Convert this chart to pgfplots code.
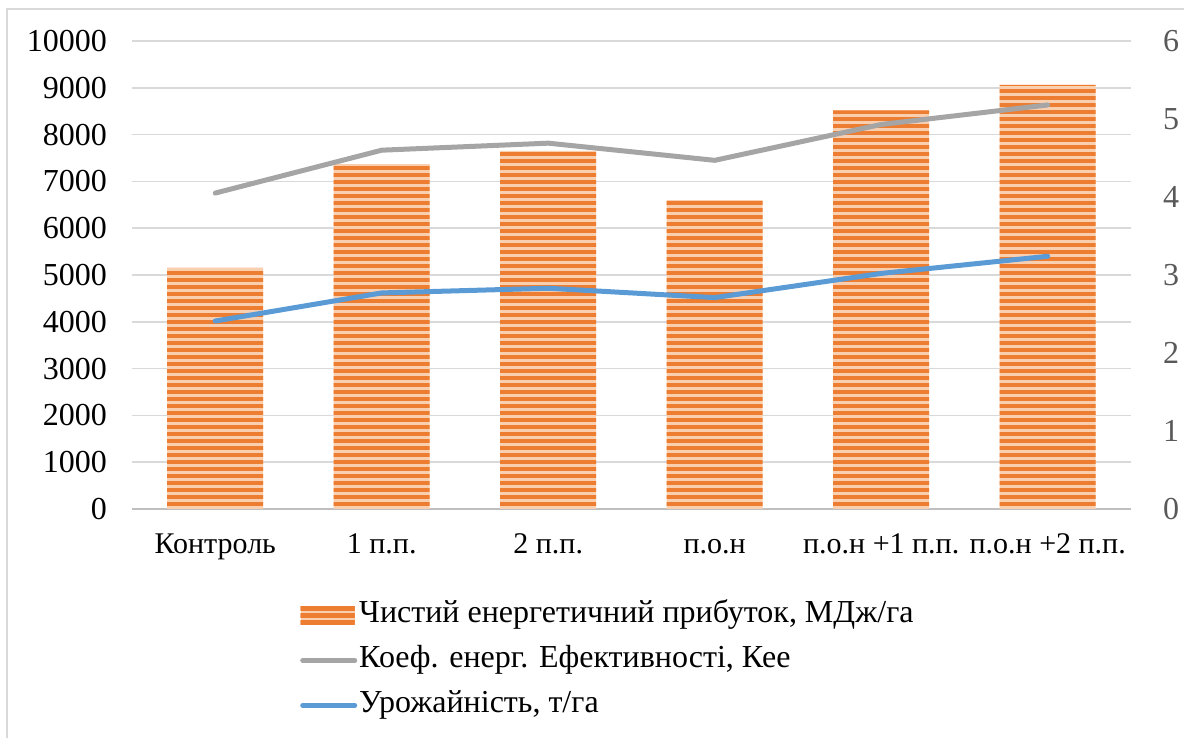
\documentclass[border=0pt]{standalone}
\usepackage{fontspec}
\setmainfont{Liberation Serif}
\usepackage{pgfplots}
\pgfplotsset{compat=1.18}
\usetikzlibrary{patterns}

\definecolor{barorange}{HTML}{ED7D31}
\definecolor{barlight}{HTML}{F9CFB0}
\definecolor{linegray}{HTML}{A5A5A5}
\definecolor{lineblue}{HTML}{5B9BD5}
\definecolor{gridgray}{HTML}{D9D9D9}
\definecolor{axisgray}{HTML}{BFBFBF}
\definecolor{labelgray}{HTML}{595959}

% wide tiles so that no seams show inside a bar
\pgfdeclarepatternformonly{hstripes}{\pgfpoint{0pt}{0pt}}{\pgfpoint{120pt}{3.5pt}}%
  {\pgfpoint{120pt}{3.5pt}}{%
  \pgfpathrectangle{\pgfpoint{-1pt}{0.7pt}}{\pgfpoint{122pt}{2.1pt}}%
  \pgfusepath{fill}}

% 1 px of the reference = 0.5pt
\pgfplotsset{
  base/.style={
    at={(66pt,114.5pt)}, anchor=south west,
    scale only axis, width=499.5pt, height=234pt,
    xmin=-0.5, xmax=5.5,
    tick style={draw=none}, major tick length=0pt,
    scaled y ticks=false,
    /pgf/number format/assume math mode=true,
    /pgf/number format/1000 sep={},
    every tick label/.append style={font=\fontsize{16}{19}\selectfont},
  },
  linelegend/.style={legend image code/.code={\draw[##1] (1pt,0pt) -- (27pt,0pt);}},
  barlegend/.style={legend image code/.code={\path[fill=barlight,
      postaction={pattern=hstripes, pattern color=barorange}]
      (0pt,-4.5pt) rectangle (27pt,4.5pt);}},
}

\begin{document}
\begin{tikzpicture}
\path[use as bounding box] (0pt,0pt) rectangle (592pt,369pt);
\draw[gridgray, line width=1pt] (3.5pt,0pt) -- (3.5pt,364.7pt) -- (592pt,364.7pt);

\begin{axis}[base,
  ymin=0, ymax=10000, ytick={0,1000,...,10000},
  axis x line*=bottom, axis y line*=left,
  y axis line style={draw=none},
  x axis line style={draw=axisgray, line width=1.2pt},
  ymajorgrids, grid style={gridgray, line width=0.8pt},
  xtick={0,...,5},
  xticklabels={Контроль,1 п.п.,2 п.п.,п.о.н,п.о.н +1 п.п.,п.о.н +2 п.п.},
  xticklabel style={yshift=-8pt, font=\fontsize{15}{18}\selectfont,
    text height=10.5pt, text depth=3.5pt},
  yticklabel style={xshift=-9pt},
  legend style={at={(rel axis cs:0.168,-0.19)}, anchor=north west,
    draw=none, fill=none, inner sep=0pt, row sep=5.5pt,
    font=\fontsize{16}{19}\selectfont,
    nodes={inner sep=1pt, text height=11pt, text depth=4pt}},
  legend cell align=left,
]
\addplot[ybar, bar width=48pt, draw=none, fill=barlight,
  postaction={pattern=hstripes, pattern color=barorange}, barlegend]
  coordinates {(0,5150) (1,7370) (2,7650) (3,6600) (4,8520) (5,9060)};
\addlegendentry{Чистий енергетичний прибуток, МДж/га}
\addlegendimage{linegray, line width=2.5pt, line cap=round, linelegend}
\addlegendentry{Коеф. енерг. Ефективності, Кее}
\addlegendimage{lineblue, line width=2.5pt, line cap=round, linelegend}
\addlegendentry{Урожайність, т/га}
\end{axis}

\begin{axis}[base,
  ymin=0, ymax=6, ytick={0,...,6},
  axis x line=none, axis y line*=right,
  y axis line style={draw=none},
  yticklabel style={xshift=12.5pt, text=labelgray},
]
\addplot[linegray, line width=2.5pt, line cap=round]
  coordinates {(0,4.05) (1,4.60) (2,4.69) (3,4.47) (4,4.93) (5,5.18)};
\addplot[lineblue, line width=2.5pt, line cap=round]
  coordinates {(0,2.41) (1,2.77) (2,2.83) (3,2.71) (4,3.02) (5,3.24)};
\end{axis}
\end{tikzpicture}
\end{document}
